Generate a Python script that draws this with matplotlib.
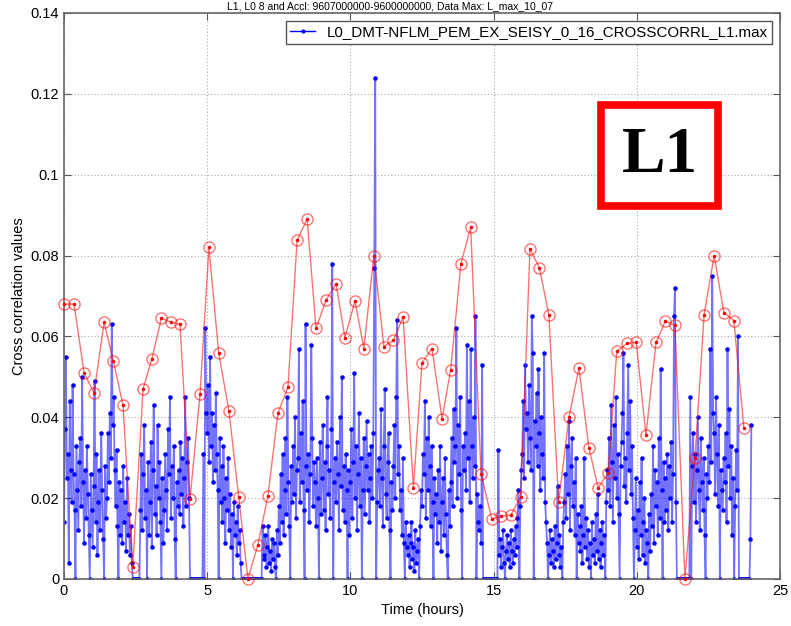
import numpy as np
import matplotlib
matplotlib.use('Agg')
import matplotlib.pyplot as plt
from matplotlib.lines import Line2D
from matplotlib.patches import Rectangle

plt.rcParams['font.family'] = ['Liberation Sans', 'DejaVu Sans']

# blue series: cross correlation, one value every 2 minutes (in units of 1e-3)
# each row is half an hour (15 samples)
blue_rows = [
    [14, 37, 55, 25, 31, 4, 44, 27, 19, 48, 26, 17, 0, 33, 22],
    [12, 29, 35, 18, 50, 24, 9, 27, 15, 33, 21, 11, 0, 26, 17],
    [8, 23, 49, 14, 31, 6, 19, 27, 12, 36, 22, 10, 0, 28, 15],
    [20, 36, 24, 41, 30, 63, 38, 45, 27, 18, 32, 13, 0, 24, 11],
    [22, 9, 28, 14, 19, 7, 25, 11, 16, 6, 13, 4, 0, 0, 0],
    [0, 0, 0, 0, 0, 17, 31, 12, 26, 38, 15, 22, 0, 29, 11],
    [19, 34, 8, 27, 43, 16, 23, 11, 38, 20, 29, 14, 0, 25, 9],
    [17, 31, 22, 12, 37, 26, 45, 15, 28, 20, 33, 10, 0, 24, 18],
    [27, 16, 34, 21, 30, 13, 25, 45, 18, 29, 35, 20, 0, 0, 0],
    [0, 0, 0, 0, 0, 0, 0, 0, 0, 0, 0, 31, 0, 62, 41],
    [36, 48, 29, 55, 33, 41, 24, 38, 27, 46, 31, 22, 0, 35, 19],
    [28, 14, 33, 20, 9, 25, 17, 30, 12, 21, 8, 16, 0, 19, 11],
    [14, 6, 18, 9, 12, 4, 0, 0, 0, 0, 0, 0, 0, 0, 0],
    [0, 0, 0, 0, 0, 0, 0, 0, 0, 0, 0, 0, 0, 13, 5],
    [6, 11, 3, 8, 13, 4, 7, 2, 10, 5, 9, 3, 0, 12, 6],
    [18, 9, 26, 14, 31, 11, 22, 35, 16, 45, 24, 13, 0, 28, 19],
    [33, 21, 40, 15, 27, 30, 57, 19, 36, 24, 44, 17, 0, 63, 28],
    [22, 31, 14, 26, 58, 35, 18, 29, 24, 13, 30, 20, 0, 34, 16],
    [25, 38, 17, 29, 12, 33, 45, 21, 27, 15, 37, 78, 0, 24, 30],
    [19, 34, 26, 12, 40, 23, 50, 17, 28, 14, 31, 22, 0, 27, 11],
    [24, 37, 15, 29, 51, 20, 33, 12, 26, 41, 18, 30, 0, 22, 35],
    [16, 28, 39, 22, 31, 14, 25, 33, 20, 36, 77, 124, 0, 19, 27],
    [30, 18, 42, 25, 13, 33, 47, 21, 15, 29, 36, 12, 0, 24, 17],
    [28, 38, 20, 45, 64, 26, 33, 17, 22, 11, 30, 9, 0, 14, 8],
    [6, 11, 3, 9, 14, 5, 8, 2, 12, 4, 7, 10, 0, 13, 22],
    [18, 31, 26, 44, 15, 35, 22, 40, 28, 13, 33, 19, 0, 25, 16],
    [21, 9, 27, 14, 33, 7, 19, 25, 11, 30, 16, 6, 0, 22, 13],
    [24, 35, 18, 42, 29, 33, 62, 20, 38, 26, 45, 17, 0, 33, 27],
    [36, 22, 58, 30, 44, 19, 57, 33, 25, 40, 28, 65, 0, 21, 14],
    [12, 18, 9, 53, 0, 0, 0, 0, 0, 0, 0, 0, 0, 0, 0],
    [0, 0, 0, 0, 0, 32, 6, 10, 3, 8, 12, 4, 0, 7, 11],
    [5, 9, 3, 12, 7, 4, 10, 6, 13, 8, 15, 22, 0, 18, 27],
    [31, 44, 25, 53, 37, 41, 29, 48, 35, 27, 65, 56, 0, 39, 33],
    [46, 28, 52, 36, 22, 40, 31, 25, 56, 19, 14, 9, 0, 6, 12],
    [4, 10, 7, 3, 13, 5, 9, 23, 6, 11, 3, 8, 0, 14, 19],
    [26, 15, 33, 21, 39, 12, 28, 35, 18, 24, 11, 30, 0, 16, 9],
    [13, 7, 18, 4, 11, 30, 8, 15, 5, 12, 3, 9, 0, 14, 6],
    [10, 4, 16, 7, 21, 5, 12, 3, 9, 14, 6, 11, 0, 19, 27],
    [22, 35, 18, 43, 29, 14, 38, 25, 45, 20, 31, 16, 0, 28, 34],
    [41, 56, 23, 30, 19, 36, 53, 27, 44, 21, 33, 15, 0, 12, 25],
    [8, 17, 5, 24, 11, 30, 6, 14, 20, 4, 12, 9, 0, 16, 7],
    [21, 13, 33, 9, 27, 18, 24, 11, 35, 15, 52, 22, 0, 29, 14],
    [25, 17, 31, 12, 28, 20, 34, 14, 26, 65, 72, 19, 0, 0, 0],
    [0, 0, 0, 0, 0, 0, 0, 0, 0, 0, 0, 45, 0, 28, 36],
    [19, 31, 14, 27, 40, 22, 12, 35, 24, 17, 30, 11, 0, 26, 20],
    [33, 24, 57, 29, 75, 41, 36, 21, 45, 31, 18, 38, 0, 27, 22],
    [17, 30, 24, 36, 14, 57, 28, 42, 20, 33, 11, 25, 0, 18, 32],
    [22, 60, 0, 0, 0, 0, 0, 0, 0, 0, 0, 0, 0, 0, 10],
]
blue_last = 38

# red series: max values of the 20 minute windows
red_t = [0.0, 0.35, 0.7, 1.05, 1.4, 1.72, 2.06, 2.4, 2.76, 3.07, 3.4, 3.74,
         4.05, 4.4, 4.75, 5.06, 5.4, 5.76, 6.1, 6.42, 6.77, 7.12, 7.47, 7.82,
         8.14, 8.49, 8.8, 9.15, 9.5, 9.81, 10.16, 10.47, 10.82, 11.17, 11.5,
         11.84, 12.2, 12.5, 12.85, 13.2, 13.5, 13.86, 14.2, 14.56, 14.94,
         15.27, 15.6, 15.95, 16.27, 16.6, 16.93, 17.27, 17.63, 17.98, 18.33,
         18.65, 19.0, 19.3, 19.66, 19.98, 20.32, 20.67, 20.99, 21.33, 21.68,
         22.03, 22.35, 22.7, 23.04, 23.39, 23.74]
red_v = [0.068, 0.068, 0.051, 0.046, 0.0635, 0.054, 0.043, 0.003, 0.047,
         0.0545, 0.0645, 0.0635, 0.063, 0.0198, 0.0457, 0.082, 0.056, 0.0415,
         0.0203, 0.0, 0.0085, 0.0205, 0.041, 0.0475, 0.0838, 0.089, 0.062,
         0.069, 0.073, 0.0597, 0.0688, 0.057, 0.080, 0.0575, 0.059, 0.0648,
         0.0225, 0.0535, 0.057, 0.0396, 0.0517, 0.078, 0.087, 0.026, 0.0148,
         0.0156, 0.0158, 0.0203, 0.0816, 0.077, 0.0653, 0.019, 0.040, 0.0522,
         0.0324, 0.0226, 0.0262, 0.0563, 0.0583, 0.0585, 0.0356, 0.0585,
         0.0637, 0.0628, 0.0, 0.030, 0.0654, 0.080, 0.0659, 0.0639, 0.0373]

blue = np.array(sum(blue_rows, []) + [blue_last]) / 1000.0
hours = np.arange(len(blue)) / 30.0

fig = plt.figure(figsize=(7.91, 6.26), dpi=100)
ax = fig.add_axes([64 / 791, 47 / 626, 716 / 791, 566 / 626])

ax.plot(hours, blue, '-', color='blue', alpha=0.55, lw=1.3, zorder=2)
ax.plot(hours, blue, '.', color='blue', ms=4.5, zorder=2.5)

ax.plot(red_t, red_v, '-', color='red', alpha=0.55, lw=1.0, zorder=3)
ax.plot(red_t, red_v, 'o', mfc='none', mec='red', alpha=0.55, ms=8, mew=1.0,
        zorder=3.5, clip_on=False)
ax.plot(red_t, red_v, '.', color='red', ms=3, zorder=4, clip_on=False)

ax.set_xlim(0, 25)
ax.set_ylim(0, 0.14)
ax.set_xticks([0, 5, 10, 15, 20, 25])
ax.set_yticks([0, 0.02, 0.04, 0.06, 0.08, 0.1, 0.12, 0.14])
ax.set_yticklabels(['0', '0.02', '0.04', '0.06', '0.08', '0.1', '0.12', '0.14'])
ax.grid(True, linestyle=(0, (1, 2)), color='#aaaaaa', lw=0.8)
ax.tick_params(direction='in', top=True, right=True, length=5, labelsize=10.5,
               color='#555555')
for s in ax.spines.values():
    s.set_color('#666666')
    s.set_linewidth(1.2)

ax.set_xlabel('Time (hours)', fontsize=10.5, labelpad=4)
ax.set_ylabel('Cross correlation values', fontsize=10.5, labelpad=3)

handle = Line2D([], [], color='blue', marker='.', ms=4, lw=1)
leg = ax.legend([handle], ['L0_DMT-NFLM_PEM_EX_SEISY_0_16_CROSSCORRL_L1.max'],
                loc='upper right', fontsize=10.9, fancybox=False, framealpha=1,
                edgecolor='#555555', borderaxespad=0.5, handlelength=1.6,
                borderpad=0.3)
leg.get_frame().set_linewidth(1.0)

# title at the very top of the picture
fig.text(390 / 791, 0.999, 'L1, L0 8 and Accl: 9607000000-9600000000, Data Max: L_max_10_07',
         ha='center', va='top', fontsize=7.5)

# L1 label box
ax.add_patch(Rectangle((601 / 791, 1 - 206 / 626), 117 / 791, 101 / 626,
                       transform=fig.transFigure, facecolor='white',
                       edgecolor='red', lw=5.5, zorder=10))
fig.text(660 / 791, 1 - 156 / 626, 'L1', ha='center', va='center',
         fontsize=47, fontweight='bold', family='Liberation Serif', zorder=11)

fig.savefig('out.png', dpi=100)
